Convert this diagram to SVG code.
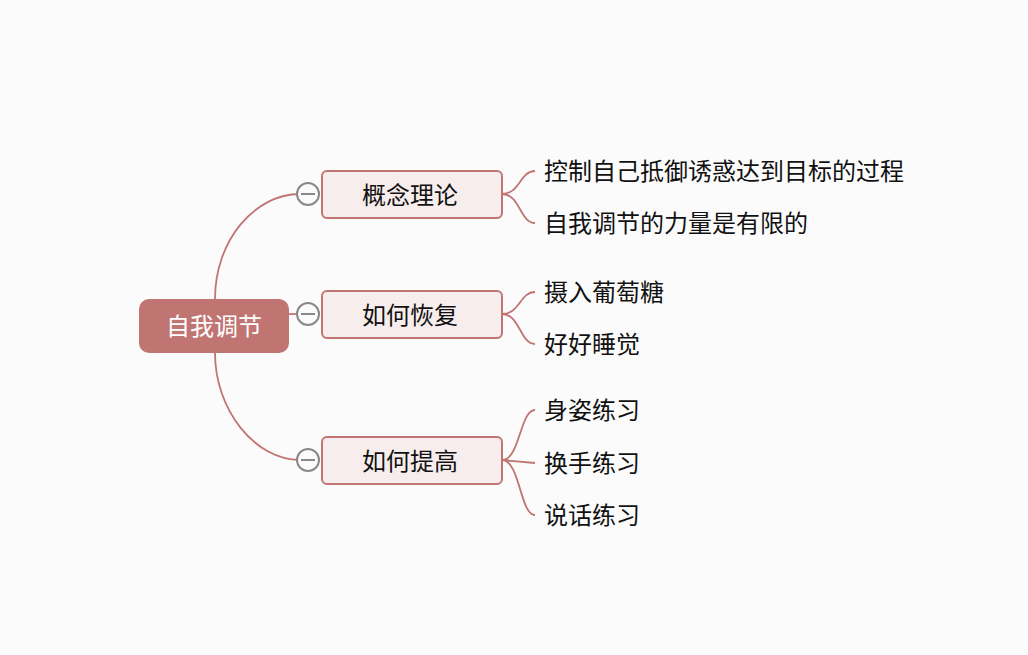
<svg xmlns="http://www.w3.org/2000/svg" width="1028" height="655" viewBox="0 0 1028 655">
<style>
.c{fill:none;stroke:#c07573;stroke-width:1.8}
.b{fill:#f8eded;stroke:#c07573;stroke-width:2}
.t{font-family:"Noto Sans CJK SC",sans-serif;font-size:24px;fill:#111}
.m{fill:#fbfbfb;stroke:#888;stroke-width:2}
</style>
<rect width="1028" height="655" fill="#fbfbfb"/>
<g id="connectors">
<path class="c" d="M215,299 C215,240 255,194 300,194"/>
<path class="c" d="M289,314 L300,314"/>
<path class="c" d="M215,353 C215,410 255,460 300,460"/>
<path class="c" d="M502,194 C520,194 520,171 535,171 M502,194 C520,194 520,223 535,223"/>
<path class="c" d="M502,314 C520,314 520,292 535,292 M502,314 C520,314 520,344 535,344"/>
<path class="c" d="M502,460 C520,460 520,410 535,410 M502,460 L535,463 M502,460 C520,460 520,515 535,515"/>
</g>
<g id="root"><rect x="139" y="299" width="150" height="54" rx="10" fill="#c07573"/><text x="214" y="335" text-anchor="middle" class="t" style="fill:#fff">自我调节</text></g>
<g id="n1"><circle class="m" cx="308" cy="194" r="11"/><line x1="301" y1="194" x2="315" y2="194" stroke="#888" stroke-width="2"/><rect class="b" x="322" y="171" width="180" height="47" rx="5"/><text x="410" y="204" text-anchor="middle" class="t">概念理论</text></g>
<g id="n2"><circle class="m" cx="308" cy="314" r="11"/><line x1="301" y1="314" x2="315" y2="314" stroke="#888" stroke-width="2"/><rect class="b" x="322" y="291" width="180" height="47" rx="5"/><text x="410" y="324" text-anchor="middle" class="t">如何恢复</text></g>
<g id="n3"><circle class="m" cx="308" cy="460" r="11"/><line x1="301" y1="460" x2="315" y2="460" stroke="#888" stroke-width="2"/><rect class="b" x="322" y="437" width="180" height="47" rx="5"/><text x="410" y="470" text-anchor="middle" class="t">如何提高</text></g>
<g id="leaves">
<text class="t" x="544" y="180">控制自己抵御诱惑达到目标的过程</text>
<text class="t" x="544" y="232">自我调节的力量是有限的</text>
<text class="t" x="544" y="301">摄入葡萄糖</text>
<text class="t" x="544" y="353">好好睡觉</text>
<text class="t" x="544" y="419">身姿练习</text>
<text class="t" x="544" y="472">换手练习</text>
<text class="t" x="544" y="524">说话练习</text>
</g>
</svg>
